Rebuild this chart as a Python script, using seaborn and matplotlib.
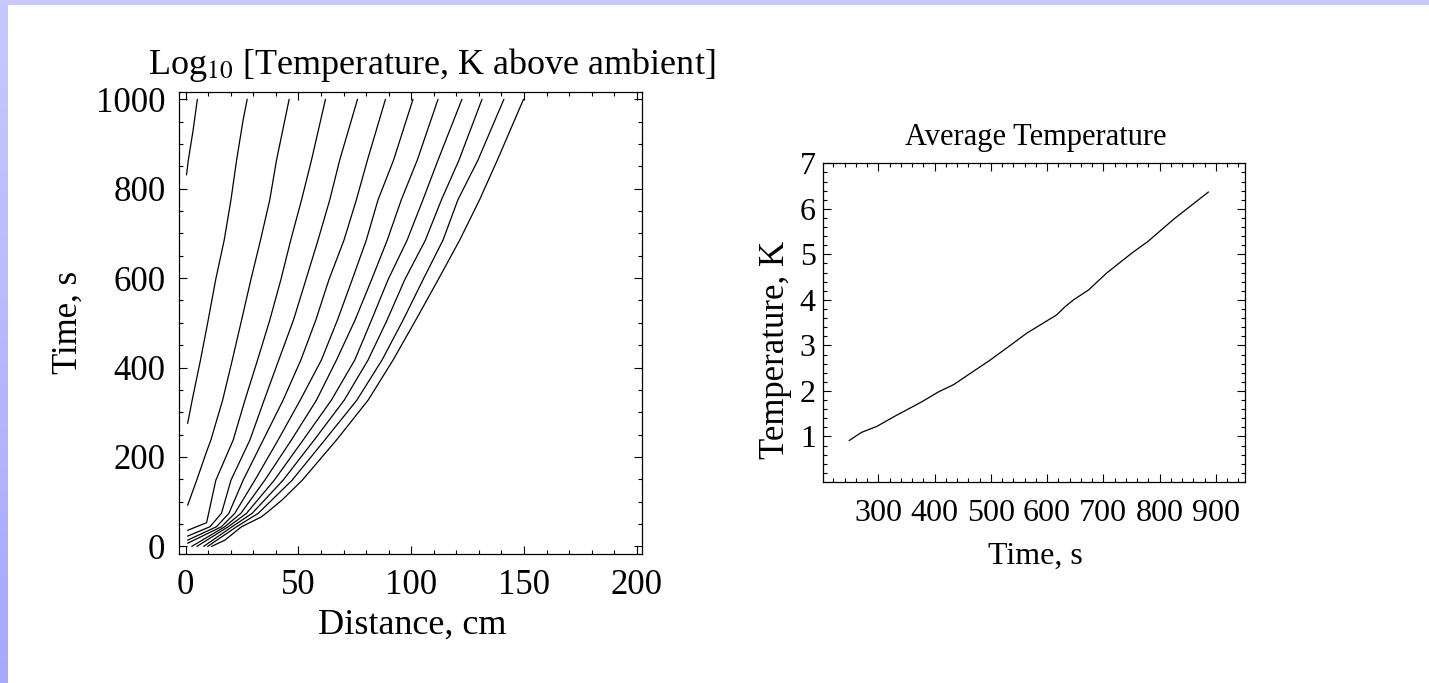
import numpy as np
import pandas as pd
import matplotlib
matplotlib.use("Agg")
import matplotlib.pyplot as plt
from matplotlib.ticker import MultipleLocator
import seaborn as sns

# contour lines of log10(temperature rise): (distance cm, time s) along each line
c1_x = [0.4, 1.2, 3.3, 5.2]
c1_t = [831, 864, 930, 1000]
c2_x = [0.9, 2.9, 6.6, 10.0, 13.3, 17.1, 20.1, 22.6, 25.5, 27.3]
c2_t = [275, 327, 417, 506, 596, 685, 775, 864, 954, 1000]
c3_x = [0.9, 4.9, 9.3, 11.2, 16.4, 20.7, 24.8, 28.9, 33.2, 37.3, 40.3, 45.9]
c3_t = [92, 148, 212, 238, 327, 417, 506, 596, 685, 775, 864, 1000]
c4_x = [0.9, 9.3, 10.2, 13.4, 21.1, 26.3, 31.9, 37.3, 42.2, 46.6, 51.4, 55.8, 62.0]
c4_t = [36, 53, 74, 148, 238, 327, 417, 506, 596, 685, 775, 864, 1000]
c5_x = [0.9, 10.8, 15.9, 20.1, 28.5, 34.8, 41.3, 47.8, 53.3, 58.7, 63.9, 68.3, 76.2]
c5_t = [23, 44, 74, 148, 238, 327, 417, 506, 596, 685, 775, 864, 1000]
c6_x = [0.9, 13.7, 19.2, 25.5, 34.4, 43.2, 51.1, 57.7, 63.5, 70.2, 75.7, 80.6, 88.6]
c6_t = [14, 44, 74, 148, 238, 327, 417, 506, 596, 685, 775, 864, 1000]
c7_x = [0.9, 15.9, 21.8, 30.7, 41.0, 50.8, 60.2, 67.3, 73.8, 80.1, 85.3, 92.2, 100.8]
c7_t = [7, 44, 74, 148, 238, 327, 417, 506, 596, 685, 775, 864, 1000]
c8_x = [2.7, 17.4, 24.5, 35.1, 46.9, 58.0, 66.9, 75.1, 82.4, 89.4, 95.6, 102.7, 111.9]
c8_t = [0, 44, 74, 148, 238, 327, 417, 506, 596, 685, 775, 864, 1000]
c9_x = [5.0, 18.9, 27.0, 39.3, 52.1, 64.6, 75.0, 82.4, 89.7, 98.2, 105.2, 111.9, 122.5]
c9_t = [0, 44, 74, 148, 238, 327, 417, 506, 596, 685, 775, 864, 1000]
c10_x = [8.0, 20.6, 29.5, 43.2, 57.0, 70.3, 80.9, 89.3, 97.1, 106.3, 113.4, 121.2, 131.4]
c10_t = [0, 44, 74, 148, 238, 327, 417, 506, 596, 685, 775, 864, 1000]
c11_x = [9.8, 22.6, 32.2, 47.2, 61.7, 75.9, 87.1, 96.4, 105.2, 114.1, 120.7, 129.6, 141.1]
c11_t = [0, 44, 74, 148, 238, 327, 417, 506, 596, 685, 775, 864, 1000]
c12_x = [11.5, 17.4, 24.8, 33.6, 36.6, 42.8, 51.7, 66.9, 80.9, 92.0, 102.0, 111.9,
         121.5, 130.3, 138.2, 149.8]
c12_t = [0, 14, 44, 66, 78, 104, 148, 238, 327, 417, 506, 596, 685, 775, 864, 1000]

# average temperature vs time
avg_time = [248, 270, 297, 330, 377, 407, 434, 470, 499, 540, 564, 617, 632, 647,
            674, 706, 751, 780, 825, 887]
avg_temp = [0.91, 1.09, 1.22, 1.45, 1.76, 1.98, 2.14, 2.44, 2.68, 3.05, 3.27, 3.67,
            3.85, 4.00, 4.22, 4.59, 5.03, 5.29, 5.77, 6.37]

contours = [(c1_x, c1_t), (c2_x, c2_t), (c3_x, c3_t), (c4_x, c4_t), (c5_x, c5_t),
            (c6_x, c6_t), (c7_x, c7_t), (c8_x, c8_t), (c9_x, c9_t), (c10_x, c10_t),
            (c11_x, c11_t), (c12_x, c12_t)]
rows = []
for i, (xs, ts) in enumerate(contours):
    for x, t in zip(xs, ts):
        rows.append({"line": i, "distance": x, "time": t})
df_contours = pd.DataFrame(rows)
df_avg = pd.DataFrame({"time": avg_time, "temp": avg_temp})

sns.set_style("ticks")
plt.rcParams["font.family"] = ["Liberation Serif", "DejaVu Serif"]
plt.rcParams["mathtext.fontset"] = "stix"
plt.rcParams["text.color"] = "black"
plt.rcParams["xtick.color"] = "black"
plt.rcParams["ytick.color"] = "black"

W, H = 1429, 683
fig = plt.figure(figsize=(W / 100, H / 100), dpi=100)
fig.patch.set_facecolor("white")

# lavender frame on the left and top edges
grad = np.linspace(0, 1, 256).reshape(-1, 1)
cmap = matplotlib.colors.LinearSegmentedColormap.from_list("lav", ["#c8c8ff", "#a8a8ff"])
bg = fig.add_axes([0, 0, 8 / W, 1])
bg.imshow(grad, aspect="auto", cmap=cmap)
bg.axis("off")
top = fig.add_axes([0, 1 - 5 / H, 1, 5 / H])
top.set_facecolor("#c8c8ff")
top.set_xticks([]); top.set_yticks([])
for s in top.spines.values():
    s.set_visible(False)


def style_axes(ax, fs, xpad, ypad):
    for s in ax.spines.values():
        s.set_visible(True)
        s.set_linewidth(0.9)
        s.set_color("black")
    ax.tick_params(which="both", direction="in", top=True, right=True,
                   colors="black", width=0.8)
    ax.tick_params(which="major", length=6, labelsize=fs, labelcolor="black")
    ax.tick_params(which="minor", length=3)
    ax.tick_params(axis="x", which="major", pad=xpad)
    ax.tick_params(axis="y", which="major", pad=ypad)


# left: contour plot
ax1 = fig.add_axes([179.3 / W, 1 - 554 / H, 462.4 / W, 462.3 / H])
sns.lineplot(data=df_contours, x="distance", y="time", units="line", estimator=None,
             sort=False, color="black", linewidth=0.9, ax=ax1)
ax1.set_xlim(-2.8, 202.2)
ax1.set_ylim(-17, 1017)
ax1.xaxis.set_major_locator(MultipleLocator(50))
ax1.xaxis.set_minor_locator(MultipleLocator(10))
ax1.yaxis.set_major_locator(MultipleLocator(200))
ax1.yaxis.set_minor_locator(MultipleLocator(50))
style_axes(ax1, 25, 11, 10)
ax1.set_xlabel("")
ax1.set_ylabel("")
fig.text(412 / W, 1 - 625 / H, "Distance, cm", fontsize=26, ha="center", va="center")
fig.text(68 / W, 1 - 322 / H, "Time, s", fontsize=25, ha="center", va="center",
         rotation=90)
fig.text(432 / W, 1 - 74 / H, "Log$_{10}$ [Temperature, K above ambient]",
         fontsize=26, ha="center", va="baseline")

# right: average temperature
ax2 = fig.add_axes([822.7 / W, 1 - 482 / H, 422.3 / W, 318.7 / H])
sns.lineplot(data=df_avg, x="time", y="temp", color="black", linewidth=0.9, ax=ax2)
ax2.set_xlim(201, 952)
ax2.set_ylim(0, 7)
ax2.set_xticks([300, 400, 500, 600, 700, 800, 900])
ax2.xaxis.set_minor_locator(MultipleLocator(20))
ax2.set_yticks([1, 2, 3, 4, 5, 6, 7])
ax2.yaxis.set_minor_locator(MultipleLocator(0.2))
style_axes(ax2, 23, 12, 5)
ax2.set_xlabel("")
ax2.set_ylabel("")
fig.text(1035 / W, 1 - 556 / H, "Time, s", fontsize=23, ha="center", va="center")
fig.text(775 / W, 1 - 350 / H, "Temperature, K", fontsize=25, ha="center",
         va="center", rotation=90)
fig.text(1036 / W, 1 - 145 / H, "Average Temperature", fontsize=22, ha="center",
         va="baseline")

fig.savefig("out.png", dpi=100)
